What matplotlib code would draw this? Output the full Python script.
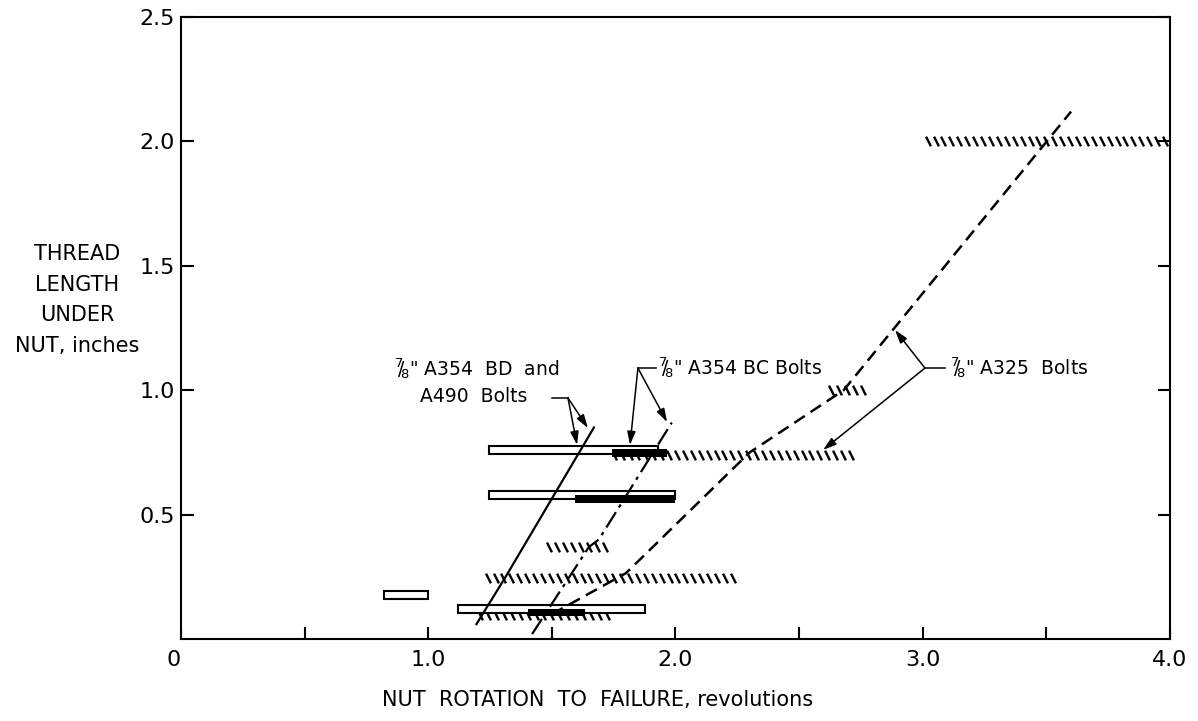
import numpy as np
import matplotlib.pyplot as plt
from matplotlib.path import Path

plt.rcParams['font.family'] = ['DejaVu Sans']
plt.rcParams['mathtext.fontset'] = 'dejavusans'
plt.rcParams['lines.scale_dashes'] = False

# open bars: start, end, thread length
open_start = [0.82, 1.245, 1.245, 1.12]
open_end = [1.00, 1.93, 2.00, 1.875]
open_level = [0.177, 0.76, 0.577, 0.12]

# solid bars
solid_start = [1.745, 1.595, 1.405]
solid_end = [1.965, 2.00, 1.635]
solid_level = [0.748, 0.563, 0.107]

# hatched ranges
hatch_start = [1.75, 2.63, 3.02, 1.49, 1.24, 1.21]
hatch_end = [2.73, 2.76, 4.00, 1.74, 2.25, 1.75]
hatch_level = [0.74, 1.00, 2.00, 0.37, 0.245, 0.095]

# trend lines for each bolt grade
bd_x = [1.195, 1.31, 1.67]
bd_y = [0.06, 0.245, 0.85]
bc_x = [1.42, 1.65, 1.69, 1.985]
bc_y = [0.02, 0.37, 0.40, 0.87]
a325_x = [1.50, 1.80, 2.30, 2.68, 3.60]
a325_y = [0.10, 0.265, 0.75, 1.00, 2.12]

x_ticks = [0, 1, 2, 3, 4]
x_labels = ['0', '1.0', '2.0', '3.0', '4.0']
y_ticks = [0.5, 1.0, 1.5, 2.0, 2.5]
y_labels = ['0.5', '1.0', '1.5', '2.0', '2.5']

frac = r'$^{7}\!\!/\!_{8}$"'

fig = plt.figure(figsize=(11.98, 7.21), dpi=100)
ax = fig.add_axes([0.1511, 0.1137, 0.8255, 0.8627])
ax.set_xlim(0, 4)
ax.set_ylim(0, 2.5)

# short slanted strokes for the hatched ranges
mark = Path([(-0.25, 0.5), (0.25, -0.5)], [Path.MOVETO, Path.LINETO])
for x0, x1, y in zip(hatch_start, hatch_end, hatch_level):
    xs = np.arange(x0, x1 + 1e-9, 0.032)
    ax.plot(xs, np.full(len(xs), y), ls='none', marker=mark, ms=7,
            mec='black', mew=1.7, mfc='none', zorder=2, clip_on=False)

ax.barh(open_level, np.subtract(open_end, open_start), left=open_start,
        height=0.032, color='white', edgecolor='black', linewidth=1.5, zorder=3)
ax.barh(solid_level, np.subtract(solid_end, solid_start), left=solid_start,
        height=0.03, color='black', zorder=4)

ax.plot(bd_x, bd_y, color='black', lw=1.6, zorder=5)
ax.plot(bc_x, bc_y, color='black', lw=1.6, dashes=(13, 4, 2.5, 4), zorder=5)
ax.plot(a325_x, a325_y, color='black', lw=1.8, dashes=(9, 5), zorder=5)

arrow = dict(arrowstyle='-|>,head_length=0.8,head_width=0.25', color='black',
             lw=1.1, shrinkA=0, shrinkB=0)
fs = 13.5

# A354 BD / A490 label
ax.text(0.86, 1.085, frac + ' A354  BD  and', fontsize=fs, va='center')
ax.text(0.967, 0.973, 'A490  Bolts', fontsize=fs, va='center')
ax.plot([1.50, 1.565], [0.969, 0.969], color='black', lw=1.1)
ax.annotate('', xy=(1.602, 0.78), xytext=(1.565, 0.969), arrowprops=arrow)
ax.annotate('', xy=(1.646, 0.848), xytext=(1.565, 0.969), arrowprops=arrow)

# A354 BC label
ax.text(1.93, 1.089, frac + ' A354 BC Bolts', fontsize=fs, va='center')
ax.plot([1.848, 1.92], [1.089, 1.089], color='black', lw=1.1)
ax.annotate('', xy=(1.816, 0.78), xytext=(1.848, 1.089), arrowprops=arrow)
ax.annotate('', xy=(1.966, 0.872), xytext=(1.848, 1.089), arrowprops=arrow)

# A325 label
ax.text(3.11, 1.089, frac + ' A325  Bolts', fontsize=fs, va='center')
ax.plot([3.009, 3.09], [1.089, 1.089], color='black', lw=1.1)
ax.annotate('', xy=(2.888, 1.242), xytext=(3.009, 1.089), arrowprops=arrow)
ax.annotate('', xy=(2.597, 0.76), xytext=(3.009, 1.089), arrowprops=arrow)

ax.set_xticks(x_ticks)
ax.set_xticklabels(x_labels)
ax.set_xticks([0.5, 1.5, 2.5, 3.5], minor=True)
ax.set_yticks(y_ticks)
ax.set_yticklabels(y_labels)
ax.tick_params(which='both', direction='in', length=9, width=1.5,
               right=True, top=False)
ax.tick_params(axis='x', labelsize=16, pad=8)
ax.tick_params(axis='y', labelsize=16, pad=4.5)
ax.get_xticklabels()[0].set_ha('right')
for s in ax.spines.values():
    s.set_linewidth(1.5)

ax.set_xlabel('NUT  ROTATION  TO  FAILURE, revolutions', fontsize=15)
ax.xaxis.label.set_va('center')
ax.xaxis.set_label_coords(0.4216, -0.098)

fig.text(77 / 1198, 1 - 300 / 721, 'THREAD\nLENGTH\nUNDER\nNUT, inches',
         ha='center', va='center', multialignment='center', fontsize=15,
         linespacing=1.68)

fig.savefig('out.png', dpi=100)
